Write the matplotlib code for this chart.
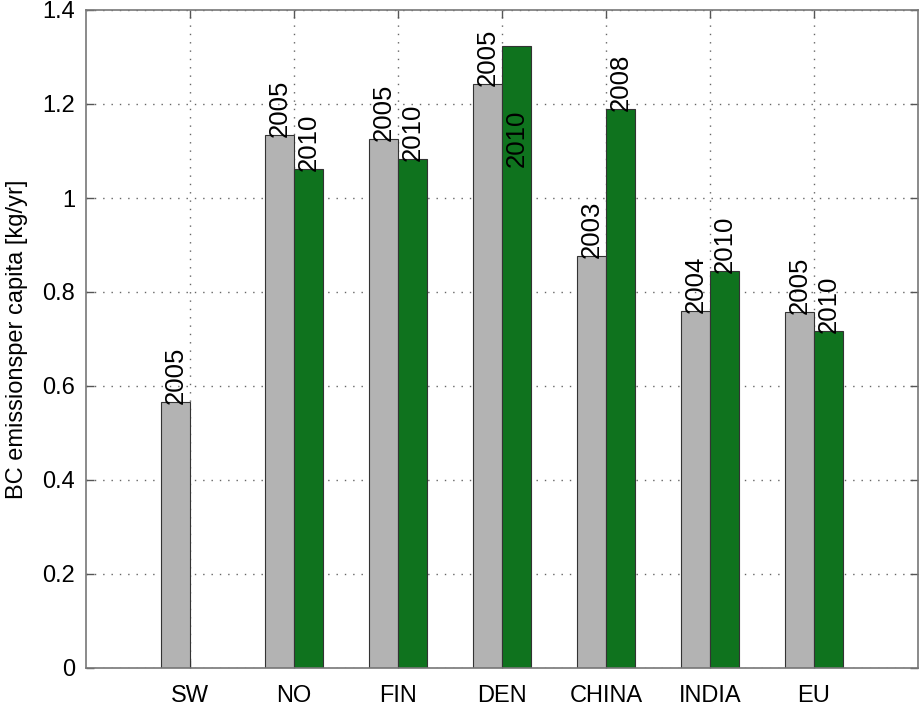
import matplotlib
matplotlib.use("Agg")
import matplotlib.pyplot as plt
import numpy as np

plt.rcParams['font.family'] = ['Liberation Sans', 'DejaVu Sans']

countries = ["SW", "NO", "FIN", "DEN", "CHINA", "INDIA", "EU"]
early_values = [0.566, 1.134, 1.126, 1.243, 0.877, 0.760, 0.757]
early_years = ["2005", "2005", "2005", "2005", "2003", "2004", "2005"]
late_values = [np.nan, 1.062, 1.083, 1.323, 1.189, 0.845, 0.717]
late_years = ["", "2010", "2010", "2010", "2008", "2010", "2010"]
# DEN 2010 label sits inside the bar in the original
late_label_y = [np.nan, 1.062, 1.083, 1.07, 1.189, 0.845, 0.717]

gray = "#b3b3b3"
green = "#0f731e"
edge = "#333333"

fig = plt.figure(figsize=(9.23, 7.06), dpi=100)
ax = fig.add_axes([86 / 923, 38 / 706, 832 / 923, 658 / 706])

x = np.arange(1, len(countries) + 1)
w = 0.28
ax.bar(x - w / 2, early_values, width=w, color=gray, edgecolor=edge, linewidth=0.8, zorder=2)
ax.bar(x + w / 2, late_values, width=w, color=green, edgecolor=edge, linewidth=0.8, zorder=2)

for i in range(len(x)):
    ax.text(x[i] - w / 2, early_values[i] - 0.004, early_years[i], rotation=90,
            ha='center', va='bottom', fontsize=18.5, zorder=3, clip_on=False)
    if late_years[i]:
        ax.text(x[i] + w / 2, late_label_y[i] - 0.004, late_years[i], rotation=90,
                ha='center', va='bottom', fontsize=18.5, zorder=3)

ax.set_xlim(0, 8)
ax.set_ylim(0, 1.4)
ax.set_xticks(x)
ax.set_xticklabels(countries)
ax.set_yticks(np.arange(0, 1.41, 0.2))
ax.set_yticklabels(["0", "0.2", "0.4", "0.6", "0.8", "1", "1.2", "1.4"])
ax.tick_params(direction='in', length=6, width=1, color='#555555', labelsize=17, pad=8,
               top=True, right=True)
ax.tick_params(axis='x', pad=12)
ax.grid(True, linestyle=(0, (1, 5)), color='#666666', linewidth=1, zorder=0)
ax.set_axisbelow(True)
for s in ax.spines.values():
    s.set_color('#777777')
    s.set_linewidth(1.2)

ax.set_ylabel("BC emissionsper capita [kg/yr]", fontsize=17, labelpad=10)

plt.savefig("out.png")
